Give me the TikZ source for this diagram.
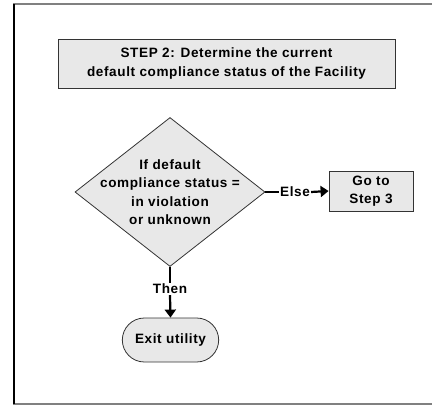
\documentclass[tikz,border=0pt]{standalone}
\usepackage{fontspec}
\setmainfont{Liberation Sans}[LetterSpace=4.5]
\usetikzlibrary{shapes.geometric,shapes.misc,arrows.meta,shadows}
\definecolor{boxfill}{HTML}{E8E8E8}
\definecolor{shadowgray}{HTML}{606060}
\begin{document}
\begin{tikzpicture}[x=1bp,y=-1bp,
  txt/.style={font=\bfseries\fontsize{13.6}{18.5}\selectfont, align=center},
  stepbox/.style={draw=black!80, line width=0.8bp, fill=boxfill, txt,
    drop shadow={shadow xshift=1.2bp, shadow yshift=-1.2bp, fill=shadowgray, opacity=1}},
  conn/.style={line width=2.2bp, draw=black},
  arr/.style={conn, -{Triangle[width=11bp,length=8bp]}}]
\useasboundingbox (0,0) rectangle (432,405);
% outer frame
\draw[gray, line width=1.5bp] (440,4) -- (14,4) -- (14,404) -- (440,404);
\draw[black, line width=2bp] (14,4) -- (14,404);
% step header
\node[stepbox, minimum width=337bp, minimum height=49bp] (step) at (226.5,63.5)
  {STEP 2: Determine the current\\default compliance status of the Facility};
% decision
\node[draw=black!80, line width=0.8bp, fill=boxfill, diamond, aspect=1.28,
  minimum width=190bp, minimum height=149bp, inner sep=0pt] (dec) at (170,192) {};
\node[txt] (dectext) at (170,192) {If default\\compliance status =\\in violation\\or unknown};
% go to step 3
\node[stepbox, minimum width=84bp, minimum height=40bp, inner sep=1bp] (go) at (371,191)
  {Go to\\Step 3};
% exit
\node[draw=black!80, line width=0.8bp, fill=boxfill, rounded rectangle, minimum width=103bp,
  minimum height=44bp, txt] (exit) at (170.5,340) {Exit utility};
% Else connector
\node[txt, inner sep=1bp] (else) at (295,192) {Else};
\draw[conn] (dec.east) -- (else.west);
\draw[arr] (else.east) -- (go.west);
% Then connector
\node[txt, inner sep=1bp] (then) at (170,289) {Then};
\draw[conn] (dec.south) -- (then.north);
\draw[arr] (then.south) -- (exit.north);
\end{tikzpicture}
\end{document}
